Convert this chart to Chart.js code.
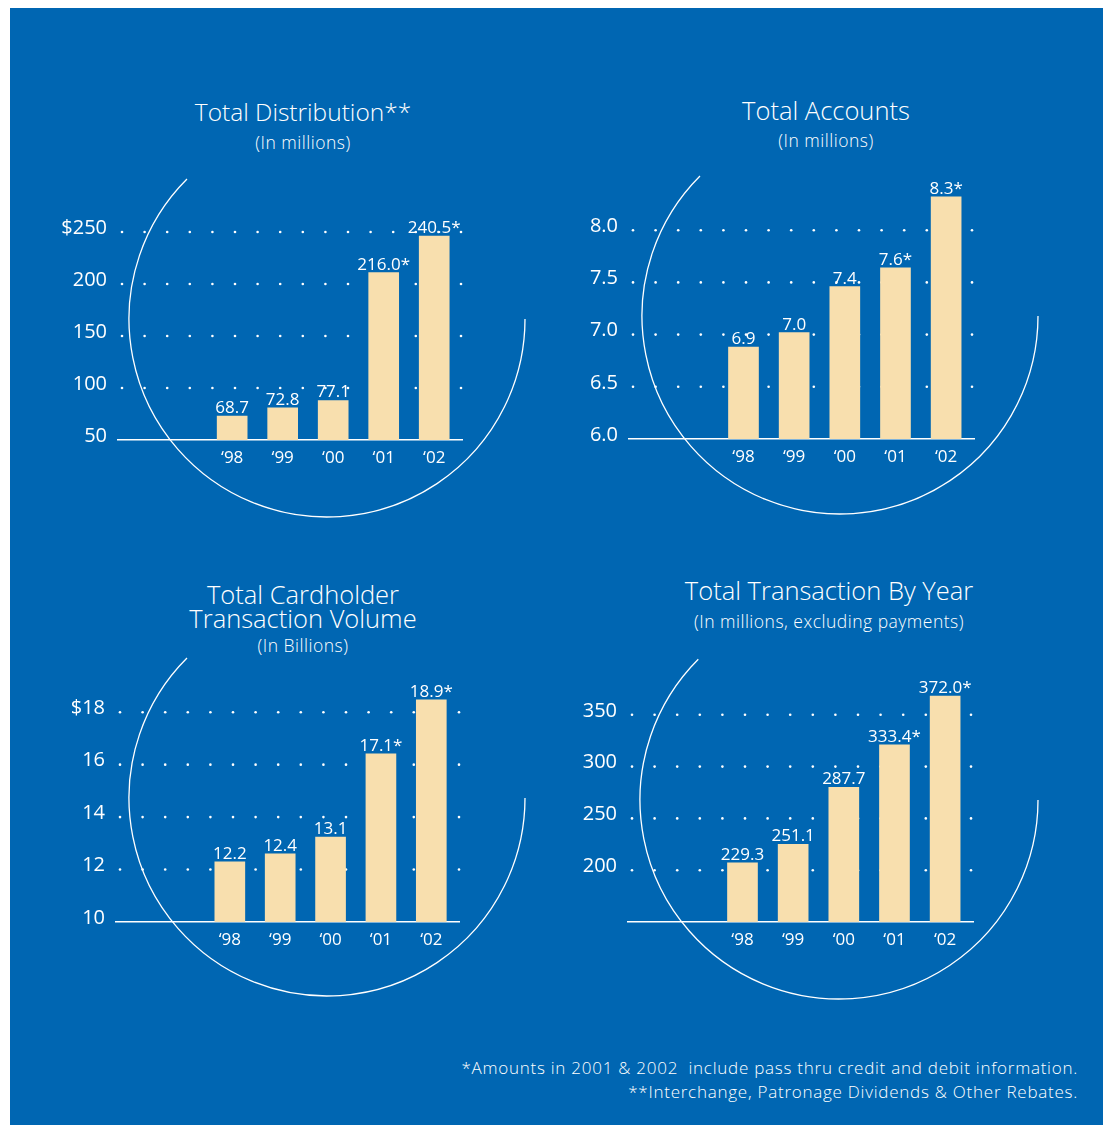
<!DOCTYPE html>
<html>
<head>
<meta charset="utf-8">
<script src="https://cdn.jsdelivr.net/npm/chart.js@4.4.0/dist/chart.umd.min.js"></script>
<style>
  body { margin: 0; background: #fff; width: 1103px; height: 1125px; position: relative; overflow: hidden; font-family: "Open Sans", sans-serif; }
  #panel { position: absolute; left: 10px; top: 8px; width: 1093px; height: 1117px; background: #0066b2; }
  canvas { position: absolute; }
  #rings { position: absolute; left: 0; top: 0; }
  .ttl { position: absolute; color: #fff; transform: translate(-50%, -50%); white-space: nowrap; text-align: center; font-weight: 300; }
  .big { font-size: 25.5px; line-height: 26px; }
  .small { font-size: 17.5px; line-height: 19px; letter-spacing: 0.5px; }
  .note { position: absolute; right: 25px; color: #fff; font-size: 17px; letter-spacing: 0.75px; white-space: nowrap; font-weight: 300; }
</style>
</head>
<body>
<div id="panel"></div>
<svg id="rings" width="1103" height="1125"></svg>

<div class="ttl big" style="left:303px; top:112px; font-size:24.5px;">Total Distribution**</div>
<div class="ttl small" style="left:303px; top:142px;">(In millions)</div>
<div class="ttl big" style="left:826px; top:110px;">Total Accounts</div>
<div class="ttl small" style="left:826px; top:140px;">(In millions)</div>
<div class="ttl big" style="left:303px; top:594px;">Total Cardholder</div>
<div class="ttl big" style="left:303px; top:618px;">Transaction Volume</div>
<div class="ttl small" style="left:303px; top:645px;">(In Billions)</div>
<div class="ttl big" style="left:829px; top:590px;">Total Transaction By Year</div>
<div class="ttl small" style="left:829px; top:621px;">(In millions, excluding payments)</div>

<div class="note" style="top:1056px;">*Amounts in 2001 &amp; 2002&nbsp; include pass thru credit and debit information.</div>
<div class="note" style="top:1080px;">**Interchange, Patronage Dividends &amp; Other Rebates.</div>

<canvas id="distChart" width="520" height="340" style="left:20px; top:160px;"></canvas>
<canvas id="acctChart" width="520" height="350" style="left:560px; top:150px;"></canvas>
<canvas id="cardChart" width="520" height="340" style="left:20px; top:640px;"></canvas>
<canvas id="tranChart" width="520" height="340" style="left:560px; top:640px;"></canvas>

<script>
// shared
const years = ['\u201898', '\u201899', '\u201800', '\u201801', '\u201802'];
const starFrom = 3; // '01 and '02 carry the asterisk

// Total Distribution (in millions)
const distValues = [68.7, 72.8, 77.1, 216.0, 240.5];
const distBars = [73, 81, 88, 211, 246];
const distTicks = [50, 100, 150, 200, 250];
const distTickLabels = ['50', '100', '150', '200', '$250'];

// Total Accounts (in millions)
const acctValues = [6.9, 7.0, 7.4, 7.6, 8.3];
const acctBars = [6.88, 7.02, 7.46, 7.64, 8.32];
const acctTicks = [6.0, 6.5, 7.0, 7.5, 8.0];
const acctTickLabels = ['6.0', '6.5', '7.0', '7.5', '8.0'];

// Total Cardholder Transaction Volume (in billions)
const cardValues = [12.2, 12.4, 13.1, 17.1, 18.9];
const cardBars = [12.29, 12.6, 13.24, 16.41, 18.47];
const cardTicks = [10, 12, 14, 16, 18];
const cardTickLabels = ['10', '12', '14', '16', '$18'];

// Total Transaction By Year (in millions)
const tranValues = [229.3, 251.1, 287.7, 333.4, 372.0];
const tranBars = [207, 225, 280, 321, 368];
const tranTicks = [200, 250, 300, 350];
const tranTickLabels = ['200', '250', '300', '350'];

const CREAM = '#f8dfae';
const FONT = '"Open Sans", sans-serif';

// the big thin circles behind each chart
const rings = [[327, 319, 198], [840, 316, 198], [327, 798, 198], [839, 800, 199]];
const svg = document.getElementById('rings');
rings.forEach(([cx, cy, r]) => {
    const ex = cx - r * Math.SQRT1_2, ey = cy - r * Math.SQRT1_2;
    const p = document.createElementNS('http://www.w3.org/2000/svg', 'path');
    p.setAttribute('d', `M ${cx + r} ${cy} A ${r} ${r} 0 1 1 ${ex} ${ey}`);
    p.setAttribute('fill', 'none');
    p.setAttribute('stroke', '#fff');
    p.setAttribute('stroke-width', '1.3');
    svg.appendChild(p);
});

// dotted guide rows, drawn under the bars
const dotRows = {
    id: 'dotRows',
    beforeDatasetsDraw(chart) {
        const { ctx, chartArea, scales } = chart;
        const y = scales.y;
        ctx.save();
        ctx.fillStyle = '#fff';
        y.ticks.forEach(t => {
            if (t.value <= y.min) return;
            const py = y.getPixelForValue(t.value);
            for (let px = chartArea.left + 4; px <= chartArea.right + 4; px += 22.6) {
                ctx.beginPath();
                ctx.arc(px, py, 1.3, 0, Math.PI * 2);
                ctx.fill();
            }
        });
        ctx.restore();
    }
};

// printed value over each bar
const valueTags = {
    id: 'valueTags',
    afterDatasetsDraw(chart) {
        const { ctx } = chart;
        const tags = chart.options.plugins.valueTags.tags;
        ctx.save();
        ctx.fillStyle = '#fff';
        ctx.font = '17px ' + FONT;
        ctx.textAlign = 'center';
        ctx.textBaseline = 'alphabetic';
        chart.getDatasetMeta(0).data.forEach((bar, i) => {
            ctx.fillText(tags[i], bar.x, bar.y - 3);
        });
        ctx.restore();
    }
};

const makeChart = (id, bars, values, ticks, tickLabels, yMin, yMax, pad) => {
    const tags = values.map((v, i) => v.toFixed(1) + (i >= starFrom ? '*' : ''));
    return new Chart(document.getElementById(id), {
        type: 'bar',
        data: {
            datasets: [{
                data: bars.map((v, i) => ({ x: i, y: v })),
                backgroundColor: CREAM,
                borderWidth: 0,
                barThickness: 30
            }]
        },
        options: {
            responsive: false,
            animation: false,
            layout: { padding: pad },
            plugins: {
                legend: { display: false },
                tooltip: { enabled: false },
                valueTags: { tags: tags }
            },
            scales: {
                x: {
                    type: 'linear',
                    offset: false,
                    min: -2.26,
                    max: 4.55,
                    grid: { display: false, drawTicks: false },
                    border: { display: true, color: '#fff', width: 1.5 },
                    afterBuildTicks(scale) { scale.ticks = years.map((_, i) => ({ value: i })); },
                    afterFit(scale) { scale.height = 30; },
                    ticks: {
                        color: '#fff',
                        padding: 8,
                        font: { family: FONT, size: 17 },
                        callback: (v) => years[v]
                    }
                },
                y: {
                    min: yMin,
                    max: yMax,
                    grid: { display: false, drawTicks: false },
                    border: { display: false },
                    afterBuildTicks(scale) { scale.ticks = ticks.map(v => ({ value: v })); },
                    afterFit(scale) { scale.width = 60; },
                    ticks: {
                        color: '#fff',
                        padding: 11,
                        labelOffset: -4,
                        font: { family: FONT, size: 20 },
                        callback: (v, i) => tickLabels[i]
                    }
                }
            }
        },
        plugins: [dotRows, valueTags]
    });
};

makeChart('distChart', distBars, distValues, distTicks, distTickLabels, 50, 250,
    { left: 38, right: 78, top: 72, bottom: 30 });
makeChart('acctChart', acctBars, acctValues, acctTicks, acctTickLabels, 6.0, 8.5,
    { left: 9, right: 106, top: 28, bottom: 31 });
makeChart('cardChart', cardBars, cardValues, cardTicks, cardTickLabels, 10, 19,
    { left: 36, right: 81, top: 46, bottom: 28 });
makeChart('tranChart', tranBars, tranValues, tranTicks, tranTickLabels, 150, 400,
    { left: 8, right: 107, top: 21, bottom: 28 });
</script>
</body>
</html>
